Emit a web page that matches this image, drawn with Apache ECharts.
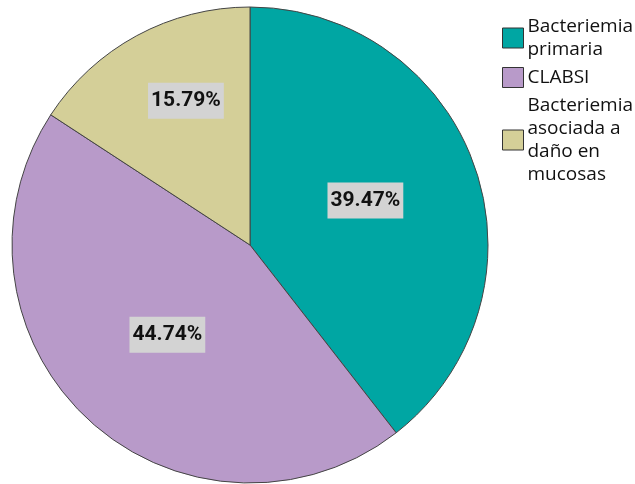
<!DOCTYPE html>
<html>
<head>
<meta charset="utf-8">
<script src="https://cdn.jsdelivr.net/npm/echarts@6/dist/echarts.min.js"></script>
<style>html,body{margin:0;padding:0;background:#fff;}#c{width:635px;height:484px;}</style>
</head>
<body>
<div id="c"></div>
<script>
const categories = ['Bacteriemia\nprimaria', 'CLABSI', 'Bacteriemia\nasociada a\ndaño en\nmucosas'];
const values = [15, 17, 6];
const percentLabels = ['39.47%', '44.74%', '15.79%'];
const colors = ['#00A6A3', '#B89AC9', '#D4CF98'];

const chart = echarts.init(document.getElementById('c'));
chart.setOption({
  animation: false,
  legend: {
    orient: 'vertical',
    left: 497,
    top: 10,
    itemWidth: 21,
    itemHeight: 20,
    itemGap: 5,
    icon: 'rect',
    itemStyle: { borderColor: '#333', borderWidth: 1 },
    textStyle: { fontFamily: 'Open Sans', fontSize: 19, lineHeight: 23, color: '#111', padding: [0,0,0,-1] },
    data: categories
  },
  series: [{
    type: 'pie',
    center: [250, 245],
    radius: 238,
    startAngle: 90,
    clockwise: true,
    avoidLabelOverlap: false,
    itemStyle: { borderColor: '#444', borderWidth: 1 },
    label: {
      show: true,
      position: 'inside',
      formatter: p => percentLabels[p.dataIndex],
      fontFamily: 'Roboto',
      fontWeight: 'bold',
      fontSize: 21,
      color: '#111',
      backgroundColor: '#D3D3D3',
      padding: [8, 3, 7, 3]
    },
    labelLine: { show: false },
    emphasis: { disabled: true },
    labelLayout: function (p) {
      if (p.dataIndex === 2) return { dx: -6, dy: -37 };
      if (p.dataIndex === 0) return { dy: -5 };
      return {};
    },
    data: categories.map((n, i) => ({ name: n, value: values[i], itemStyle: { color: colors[i] } }))
  }]
});
</script>
</body>
</html>
